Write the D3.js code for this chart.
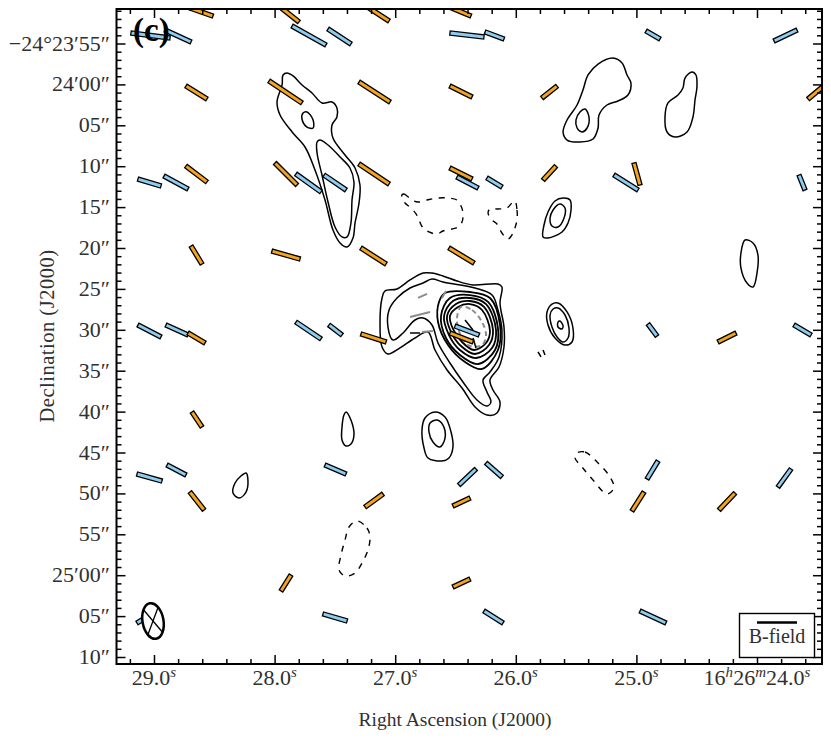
<!DOCTYPE html>
<html><head><meta charset="utf-8">
<script src="https://cdn.jsdelivr.net/npm/d3@7"></script>
<style>html,body{margin:0;padding:0;background:#fff}svg{display:block}</style>
</head><body><div id="chart"></div>
<script>
// Right ascension is seconds of 16h26m; declination is arcsec south of -24d23m00s.
const xMajor=[29,28,27,26,25,24];
const xMinor=[29.2,28.8,28.6,28.4,28.2,27.8,27.6,27.4,27.2,26.8,26.6,26.4,26.2,25.8,25.6,25.4,25.2,24.8,24.6,24.4,24.2,23.8,23.6];
const xLabels=["29.0^s","28.0^s","27.0^s","26.0^s","25.0^s","16^h26^m24.0^s"];
const yMajor=[55,60,65,70,75,80,85,90,95,100,105,110,115,120,125,130];
const yLabels=["−24°23′55″","24′00″","05″","10″","15″","20″","25″","30″","35″","40″","45″","50″","55″","25′00″","05″","10″"];
const yMinor=d3.range(51,131).filter(v=>v%5!==0);

const orangeSegments=[
[28.726,50.54,28.511,51.64],[27.964,50.42,27.798,52.37],[27.242,50.42,27.051,52.25],[26.570,50.42,26.372,51.64],
[28.735,60.20,28.561,61.79],[28.046,59.58,27.773,62.27],[27.300,59.71,27.043,62.15],[26.546,60.20,26.363,61.54],[25.783,61.66,25.658,60.20],[23.577,61.79,23.428,59.95],
[28.735,69.98,28.561,71.93],[27.997,69.61,27.814,72.30],[27.300,69.73,27.051,72.18],[26.546,70.22,26.363,71.57],[25.774,71.69,25.667,69.98],[25.020,69.61,24.970,72.30],
[28.693,79.76,28.602,81.96],[28.022,80.37,27.789,81.35],[27.284,80.00,27.076,81.96],[26.554,80.00,26.347,81.83],
[28.718,90.39,28.577,91.61],[27.284,90.51,27.076,91.49],[26.546,90.39,26.355,91.49],[24.323,91.49,24.174,90.39],
[28.685,100.05,28.602,101.88],
[28.702,109.83,28.585,112.03],[27.250,111.66,27.101,110.07],[26.521,111.54,26.380,110.56],[25.037,112.15,24.937,109.83],[24.315,112.03,24.182,109.95],
[27.947,121.93,27.864,119.98],[26.521,121.44,26.380,120.46]];

const blueSegments=[
[29.191,53.72,28.867,54.33],[28.909,53.35,28.693,54.82],[27.855,52.86,27.574,55.18],[27.557,53.23,27.367,55.06],[26.546,53.72,26.264,54.20],[26.255,53.59,26.098,54.45],[24.920,53.47,24.804,54.45],[23.859,54.69,23.668,53.35],
[29.133,71.57,28.942,72.42],[28.917,71.20,28.718,72.79],[27.823,70.95,27.615,73.15],[27.590,71.08,27.408,72.91],[26.488,71.32,26.313,72.67],[26.239,71.44,26.115,72.54],[25.186,71.08,24.987,72.91],[23.652,71.08,23.602,72.91],
[29.133,89.41,28.942,90.88],[28.901,89.41,28.718,90.64],[27.823,89.05,27.615,91.12],[27.549,89.41,27.441,90.64],[26.504,89.54,26.305,90.64],[24.904,89.29,24.829,90.76],[23.693,89.41,23.552,90.64],
[29.141,107.63,28.934,108.49],[28.892,106.53,28.735,107.75],[27.582,106.53,27.408,107.63],[26.471,108.97,26.330,107.02],[26.247,106.28,26.115,107.99],[24.912,108.24,24.821,106.04],[23.826,109.22,23.718,107.02],
[29.141,125.84,29.017,124.74],[27.599,124.74,27.399,125.60],[26.264,124.38,26.106,125.84],[24.970,124.38,24.755,125.84]];

const contourNwOuter=[[27.897,58.61],[27.847,58.97],[27.772,60.07],[27.690,61.05],[27.607,62.27],[27.524,62.15],[27.483,62.89],[27.483,63.99],[27.524,64.96],[27.516,66.55],[27.416,68.63],[27.333,70.22],[27.292,72.30],[27.300,74.50],[27.333,76.94],[27.350,78.78],[27.399,79.88],[27.457,79.39],[27.516,77.80],[27.582,74.13],[27.665,70.46],[27.748,67.65],[27.855,65.82],[27.955,63.74],[27.980,62.15],[27.938,60.07],[27.930,58.85]];
const contourNwInner=[[27.624,66.80],[27.557,67.41],[27.457,68.88],[27.375,70.22],[27.342,71.93],[27.358,74.13],[27.367,76.94],[27.399,78.65],[27.441,78.65],[27.499,77.43],[27.557,74.38],[27.607,71.08],[27.648,68.39],[27.648,67.04]];
const contourNwSmall=[[27.731,63.37],[27.681,64.35],[27.681,65.33],[27.731,65.21],[27.773,64.23],[27.764,63.50]];
const contourNeOuter=[[25.194,56.77],[25.119,57.38],[25.078,58.85],[25.045,59.83],[25.070,61.30],[25.152,62.03],[25.244,62.52],[25.310,63.74],[25.318,65.33],[25.360,66.67],[25.468,67.04],[25.575,66.80],[25.608,65.82],[25.575,64.35],[25.492,62.52],[25.443,60.68],[25.401,58.85],[25.318,57.51]];
const contourNeInner=[[25.426,63.01],[25.393,63.99],[25.409,65.33],[25.451,65.82],[25.492,65.33],[25.501,64.35],[25.468,63.37]];
const contourEast=[[24.539,58.48],[24.506,58.85],[24.498,60.32],[24.514,61.91],[24.531,63.99],[24.580,65.82],[24.680,66.43],[24.746,65.82],[24.763,63.99],[24.738,62.27],[24.655,61.30],[24.614,60.44],[24.597,59.22]];
const coreLevel1=[[26.695,83.06],[26.604,83.42],[26.488,84.03],[26.355,84.52],[26.148,84.40],[26.115,84.77],[26.131,86.72],[26.098,89.66],[26.098,92.10],[26.139,94.55],[26.214,96.14],[26.189,97.36],[26.131,98.82],[26.156,100.17],[26.239,100.42],[26.338,99.44],[26.446,97.11],[26.570,94.91],[26.670,92.47],[26.728,90.27],[26.836,91.00],[26.960,92.22],[27.060,92.96],[27.109,92.10],[27.126,89.17],[27.109,86.11],[27.085,85.26],[26.985,85.01],[26.877,83.91],[26.769,83.06]];
const coreLevel2=[[26.695,83.79],[26.604,84.16],[26.338,84.89],[26.197,85.75],[26.148,87.58],[26.115,90.02],[26.139,93.32],[26.214,95.16],[26.272,96.14],[26.239,97.60],[26.206,98.82],[26.239,99.32],[26.322,98.58],[26.438,96.38],[26.546,94.06],[26.645,91.61],[26.695,89.41],[26.769,88.56],[26.836,88.80],[26.935,90.39],[27.018,91.25],[27.060,89.66],[27.051,87.58],[26.985,86.11],[26.877,84.89],[26.769,84.28]];
const coreLevel3=[[26.587,85.50],[26.380,85.38],[26.214,86.11],[26.131,89.41],[26.148,92.47],[26.280,94.79],[26.421,93.94],[26.562,91.86],[26.645,89.05],[26.637,86.60]];
const coreLevel4=[[26.380,85.75],[26.230,86.60],[26.148,89.78],[26.172,92.47],[26.313,94.18],[26.463,93.08],[26.579,91.00],[26.620,88.31],[26.546,86.11]];
const coreLevel5=[[26.380,86.11],[26.247,86.85],[26.164,90.02],[26.197,92.22],[26.330,93.45],[26.463,92.47],[26.554,90.64],[26.595,88.31],[26.521,86.48]];
const coreLevel6=[[26.380,86.48],[26.264,87.21],[26.189,90.02],[26.222,91.86],[26.338,92.96],[26.454,91.98],[26.537,90.27],[26.570,88.31],[26.496,86.85]];
const coreLevel7=[[26.380,86.85],[26.280,87.58],[26.214,90.15],[26.247,91.61],[26.347,92.47],[26.446,91.49],[26.521,89.90],[26.546,88.31],[26.479,87.21]];
const contourMidOuter=[[25.608,73.89],[25.550,74.13],[25.542,75.35],[25.567,76.94],[25.617,78.04],[25.733,78.78],[25.774,78.65],[25.766,77.19],[25.733,75.60],[25.675,74.25]];
const contourMidInner=[[25.634,74.62],[25.592,75.11],[25.600,76.33],[25.650,77.43],[25.700,77.31],[25.716,76.33],[25.691,75.35]];
const contourSideOuter=[[25.650,86.72],[25.575,87.82],[25.526,89.78],[25.534,91.49],[25.592,91.86],[25.675,91.00],[25.733,89.41],[25.741,87.82],[25.700,86.85]];
const contourSideMid=[[25.650,87.33],[25.592,88.19],[25.559,89.78],[25.567,91.00],[25.608,91.49],[25.658,90.88],[25.700,89.66],[25.716,88.19],[25.691,87.46]];
const contourSideCore=[[25.634,88.92],[25.608,89.54],[25.617,89.90],[25.650,89.66],[25.650,89.05]];
const contourDrop=[[27.408,100.05],[27.367,101.03],[27.342,102.86],[27.367,103.96],[27.408,104.20],[27.441,103.47],[27.441,101.88],[27.425,100.42]];
const contourSouthOuter=[[26.670,100.05],[26.587,100.66],[26.537,102.49],[26.521,104.33],[26.554,105.67],[26.612,106.04],[26.728,105.67],[26.761,104.45],[26.778,102.25],[26.753,100.78]];
const contourSouthInner=[[26.653,101.03],[26.604,101.64],[26.587,103.23],[26.629,104.33],[26.687,103.72],[26.720,102.49],[26.711,101.39]];
const contourSw=[[28.237,107.51],[28.221,108.36],[28.237,109.83],[28.295,110.56],[28.345,109.95],[28.328,108.73],[28.279,107.87]];
const contourFarEast=[[24.099,79.02],[24.033,79.39],[23.992,80.86],[24.000,83.06],[24.033,84.77],[24.083,84.28],[24.133,82.45],[24.133,80.61]];
const solidContours=[contourNwOuter,contourNwInner,contourNwSmall,contourNeOuter,contourNeInner,contourEast,coreLevel1,coreLevel2,contourMidOuter,contourMidInner,contourSideOuter,contourSideMid,contourSideCore,contourDrop,contourSouthOuter,contourSouthInner,contourSw,contourFarEast];
const coreRings=[coreLevel3,coreLevel4,coreLevel5,coreLevel6,coreLevel7];

const negOne=[[26.944,73.52],[26.927,73.40],[26.902,73.64],[26.861,74.13],[26.811,74.38],[26.736,74.13],[26.645,73.89],[26.562,73.89],[26.488,74.13],[26.454,74.87],[26.438,75.72],[26.446,76.82],[26.479,77.43],[26.529,77.68],[26.604,77.92],[26.653,78.29],[26.720,78.04],[26.769,77.55],[26.803,76.58],[26.827,75.84],[26.869,75.11],[26.919,74.50],[26.944,73.89]];
const negTwo=[[26.007,74.25],[25.990,75.35],[25.990,76.58],[26.007,77.55],[26.023,78.17],[26.065,78.90],[26.115,78.17],[26.156,77.07],[26.197,76.58],[26.230,75.72],[26.214,75.23],[26.148,75.23],[26.073,75.11],[26.032,74.50]];
const negThree=[[27.317,113.37],[27.234,114.23],[27.209,115.33],[27.226,116.92],[27.275,118.51],[27.333,119.73],[27.416,120.10],[27.466,119.37],[27.449,117.53],[27.416,115.70],[27.383,114.11]];
const negFour=[[25.493,105.06],[25.426,104.94],[25.318,106.28],[25.219,107.99],[25.186,109.34],[25.244,110.07],[25.360,108.36],[25.451,106.77],[25.509,105.67]];
const dashedContours=[negOne,negTwo,negThree,negFour];

const greyRing=[[26.454,87.21],[26.363,87.58],[26.280,89.05],[26.247,90.64],[26.280,91.86],[26.380,91.98],[26.446,91.00],[26.488,88.80]];
const greyStrokes=[[[26.811,86.11],[26.736,85.62]],[[26.877,88.44],[26.711,87.82]],[[26.778,90.27],[26.687,90.15]],[[26.612,86.11],[26.579,85.26]]];
const blackStrokes=[[[26.877,90.39],[26.794,90.39]],[[26.421,88.80],[26.355,90.02]],[[26.355,91.00],[26.330,92.22]],[[25.774,92.47],[25.758,93.08]],[[25.816,92.71],[25.791,93.32]]];

const beamRA=29.0, beamDec=125.6, beamMinorSec=0.087, beamMajorArcsec=2.2, beamTilt=-10;
const legendLabel="B-field", panelLabel="(c)";
const xTitle="Right Ascension (J2000)", yTitle="Declination (J2000)";
const orange="#f5a41f", blue="#8ecdef", ink="#303030";

const W=831,H=741,plotLeft=116.5,plotRight=822,plotTop=9,plotBottom=664;
const x=d3.scaleLinear().domain([29,24]).range([154,757]);
const y=d3.scaleLinear().domain([55,130]).range([43.5,657]);
const FONT='"Liberation Serif","DejaVu Serif",serif';

const svg=d3.select("#chart").append("svg").attr("width",W).attr("height",H).attr("viewBox",`0 0 ${W} ${H}`).style("font-family",FONT);
svg.append("defs").append("clipPath").attr("id","plot").append("rect").attr("x",plotLeft).attr("y",plotTop).attr("width",plotRight-plotLeft).attr("height",plotBottom-plotTop);
const plot=svg.append("g").attr("clip-path","url(#plot)");

const toPx=p=>[x(p[0]),y(p[1])];
const closedLine=d3.line().curve(d3.curveCatmullRomClosed.alpha(0.5));
const openLine=d3.line().curve(d3.curveLinear);

plot.append("g").selectAll("path").data(solidContours).join("path")
 .attr("d",d=>closedLine(d.map(toPx))).attr("fill","none").attr("stroke","#000").attr("stroke-width",1.5);
plot.append("g").selectAll("path").data(coreRings).join("path")
 .attr("d",d=>closedLine(d.map(toPx))).attr("fill","none").attr("stroke","#000").attr("stroke-width",1.8);
plot.append("g").selectAll("path").data(dashedContours).join("path")
 .attr("d",d=>closedLine(d.map(toPx))).attr("fill","none").attr("stroke","#000").attr("stroke-width",1.4).attr("stroke-dasharray","6 6.5");
plot.append("path").attr("d",closedLine(greyRing.map(toPx))).attr("fill","none").attr("stroke","#8c8c8c").attr("stroke-width",2).attr("stroke-dasharray","5 3.5");
plot.append("g").selectAll("path").data(greyStrokes).join("path").attr("d",d=>openLine(d.map(toPx))).attr("fill","none").attr("stroke","#8c8c8c").attr("stroke-width",1.9);
plot.append("g").selectAll("path").data(blackStrokes).join("path").attr("d",d=>openLine(d.map(toPx))).attr("fill","none").attr("stroke","#000").attr("stroke-width",1.5);

function bar(s){
 const a=x(s[0]),b=y(s[1]),c=x(s[2]),d=y(s[3]);
 const L=Math.hypot(c-a,d-b), hw=2.1, nx=-(d-b)/L*hw, ny=(c-a)/L*hw;
 return `M${a+nx},${b+ny}L${c+nx},${d+ny}L${c-nx},${d-ny}L${a-nx},${b-ny}Z`;
}
plot.append("g").selectAll("path").data(blueSegments).join("path").attr("d",bar).attr("fill",blue).attr("stroke","#000").attr("stroke-width",1.3);
plot.append("g").selectAll("path").data(orangeSegments).join("path").attr("d",bar).attr("fill",orange).attr("stroke","#000").attr("stroke-width",1.3);

// beam
const bx=x(beamRA)-1,by=y(beamDec),brx=Math.abs(x(beamRA+beamMinorSec)-x(beamRA)),bry=Math.abs(y(beamDec+beamMajorArcsec)-y(beamDec));
const beam=plot.append("g").attr("transform",`translate(${bx},${by}) rotate(${beamTilt})`);
beam.append("ellipse").attr("rx",brx).attr("ry",bry).attr("fill","#fff").attr("stroke","#000").attr("stroke-width",2.5);
[[-1,-1],[-1,1]].forEach(s=>{const c=Math.SQRT1_2;
 beam.append("line").attr("x1",s[0]*brx*c).attr("y1",s[1]*bry*c).attr("x2",-s[0]*brx*c).attr("y2",-s[1]*bry*c).attr("stroke","#000").attr("stroke-width",1.3);});

// frame + ticks
function styleAxis(g){g.select(".domain").remove();g.selectAll("line").attr("stroke","#000").attr("stroke-width",1.5);g.selectAll("text").remove();}
svg.append("g").attr("transform",`translate(0,${plotBottom})`).call(d3.axisBottom(x).tickValues(xMajor).tickSize(-9)).call(styleAxis);
svg.append("g").attr("transform",`translate(0,${plotBottom})`).call(d3.axisBottom(x).tickValues(xMinor).tickSize(-5)).call(styleAxis);
svg.append("g").attr("transform",`translate(0,${plotTop})`).call(d3.axisTop(x).tickValues(xMajor).tickSize(-9)).call(styleAxis);
svg.append("g").attr("transform",`translate(0,${plotTop})`).call(d3.axisTop(x).tickValues(xMinor).tickSize(-5)).call(styleAxis);
svg.append("g").attr("transform",`translate(${plotLeft},0)`).call(d3.axisLeft(y).tickValues(yMajor).tickSize(-9)).call(styleAxis);
svg.append("g").attr("transform",`translate(${plotLeft},0)`).call(d3.axisLeft(y).tickValues(yMinor).tickSize(-5)).call(styleAxis);
svg.append("g").attr("transform",`translate(${plotRight},0)`).call(d3.axisRight(y).tickValues(yMajor).tickSize(-9)).call(styleAxis);
svg.append("g").attr("transform",`translate(${plotRight},0)`).call(d3.axisRight(y).tickValues(yMinor).tickSize(-5)).call(styleAxis);
svg.append("rect").attr("x",plotLeft).attr("y",plotTop).attr("width",plotRight-plotLeft).attr("height",plotBottom-plotTop).attr("fill","none").attr("stroke","#000").attr("stroke-width",2);

// tick labels
const TS=22;
xMajor.forEach((v,i)=>{
 const t=svg.append("text").attr("x",x(v)).attr("y",685).attr("text-anchor","middle").attr("font-size",TS).attr("fill",ink);
 xLabels[i].split(/(\^[a-z])/).filter(Boolean).forEach(p=>{
  if(p[0]==="^"){ t.append("tspan").attr("dy",-8).attr("font-size",TS*0.68).attr("font-style","italic").text(p[1]);
                  t.append("tspan").attr("dy",8).attr("font-size",1).text("\u200a"); }
  else t.append("tspan").text(p);
 });
});
yMajor.forEach((v,i)=>{
 svg.append("text").attr("x",110).attr("y",y(v)+7).attr("text-anchor","end").attr("font-size",TS).attr("fill",ink).text(yLabels[i]);
});

// titles
svg.append("text").attr("x",455).attr("y",726).attr("text-anchor","middle").attr("font-size",19.5).attr("fill",ink).text(xTitle);
svg.append("text").attr("transform",`translate(54,336) rotate(-90)`).attr("text-anchor","middle").attr("font-size",20.5).attr("letter-spacing",0.5).attr("fill",ink).text(yTitle);
svg.append("text").attr("x",133).attr("y",41).attr("font-size",33).attr("font-weight","bold").attr("fill","#000").text(panelLabel);

// legend
const lg=svg.append("g");
lg.append("rect").attr("x",739.5).attr("y",613.5).attr("width",75).attr("height",44).attr("fill","#fff").attr("stroke","#000").attr("stroke-width",1.4);
lg.append("line").attr("x1",757).attr("x2",797).attr("y1",622.5).attr("y2",622.5).attr("stroke","#000").attr("stroke-width",2.6);
lg.append("text").attr("x",777).attr("y",643).attr("text-anchor","middle").attr("font-size",20).attr("fill",ink).text(legendLabel);
</script></body></html>
